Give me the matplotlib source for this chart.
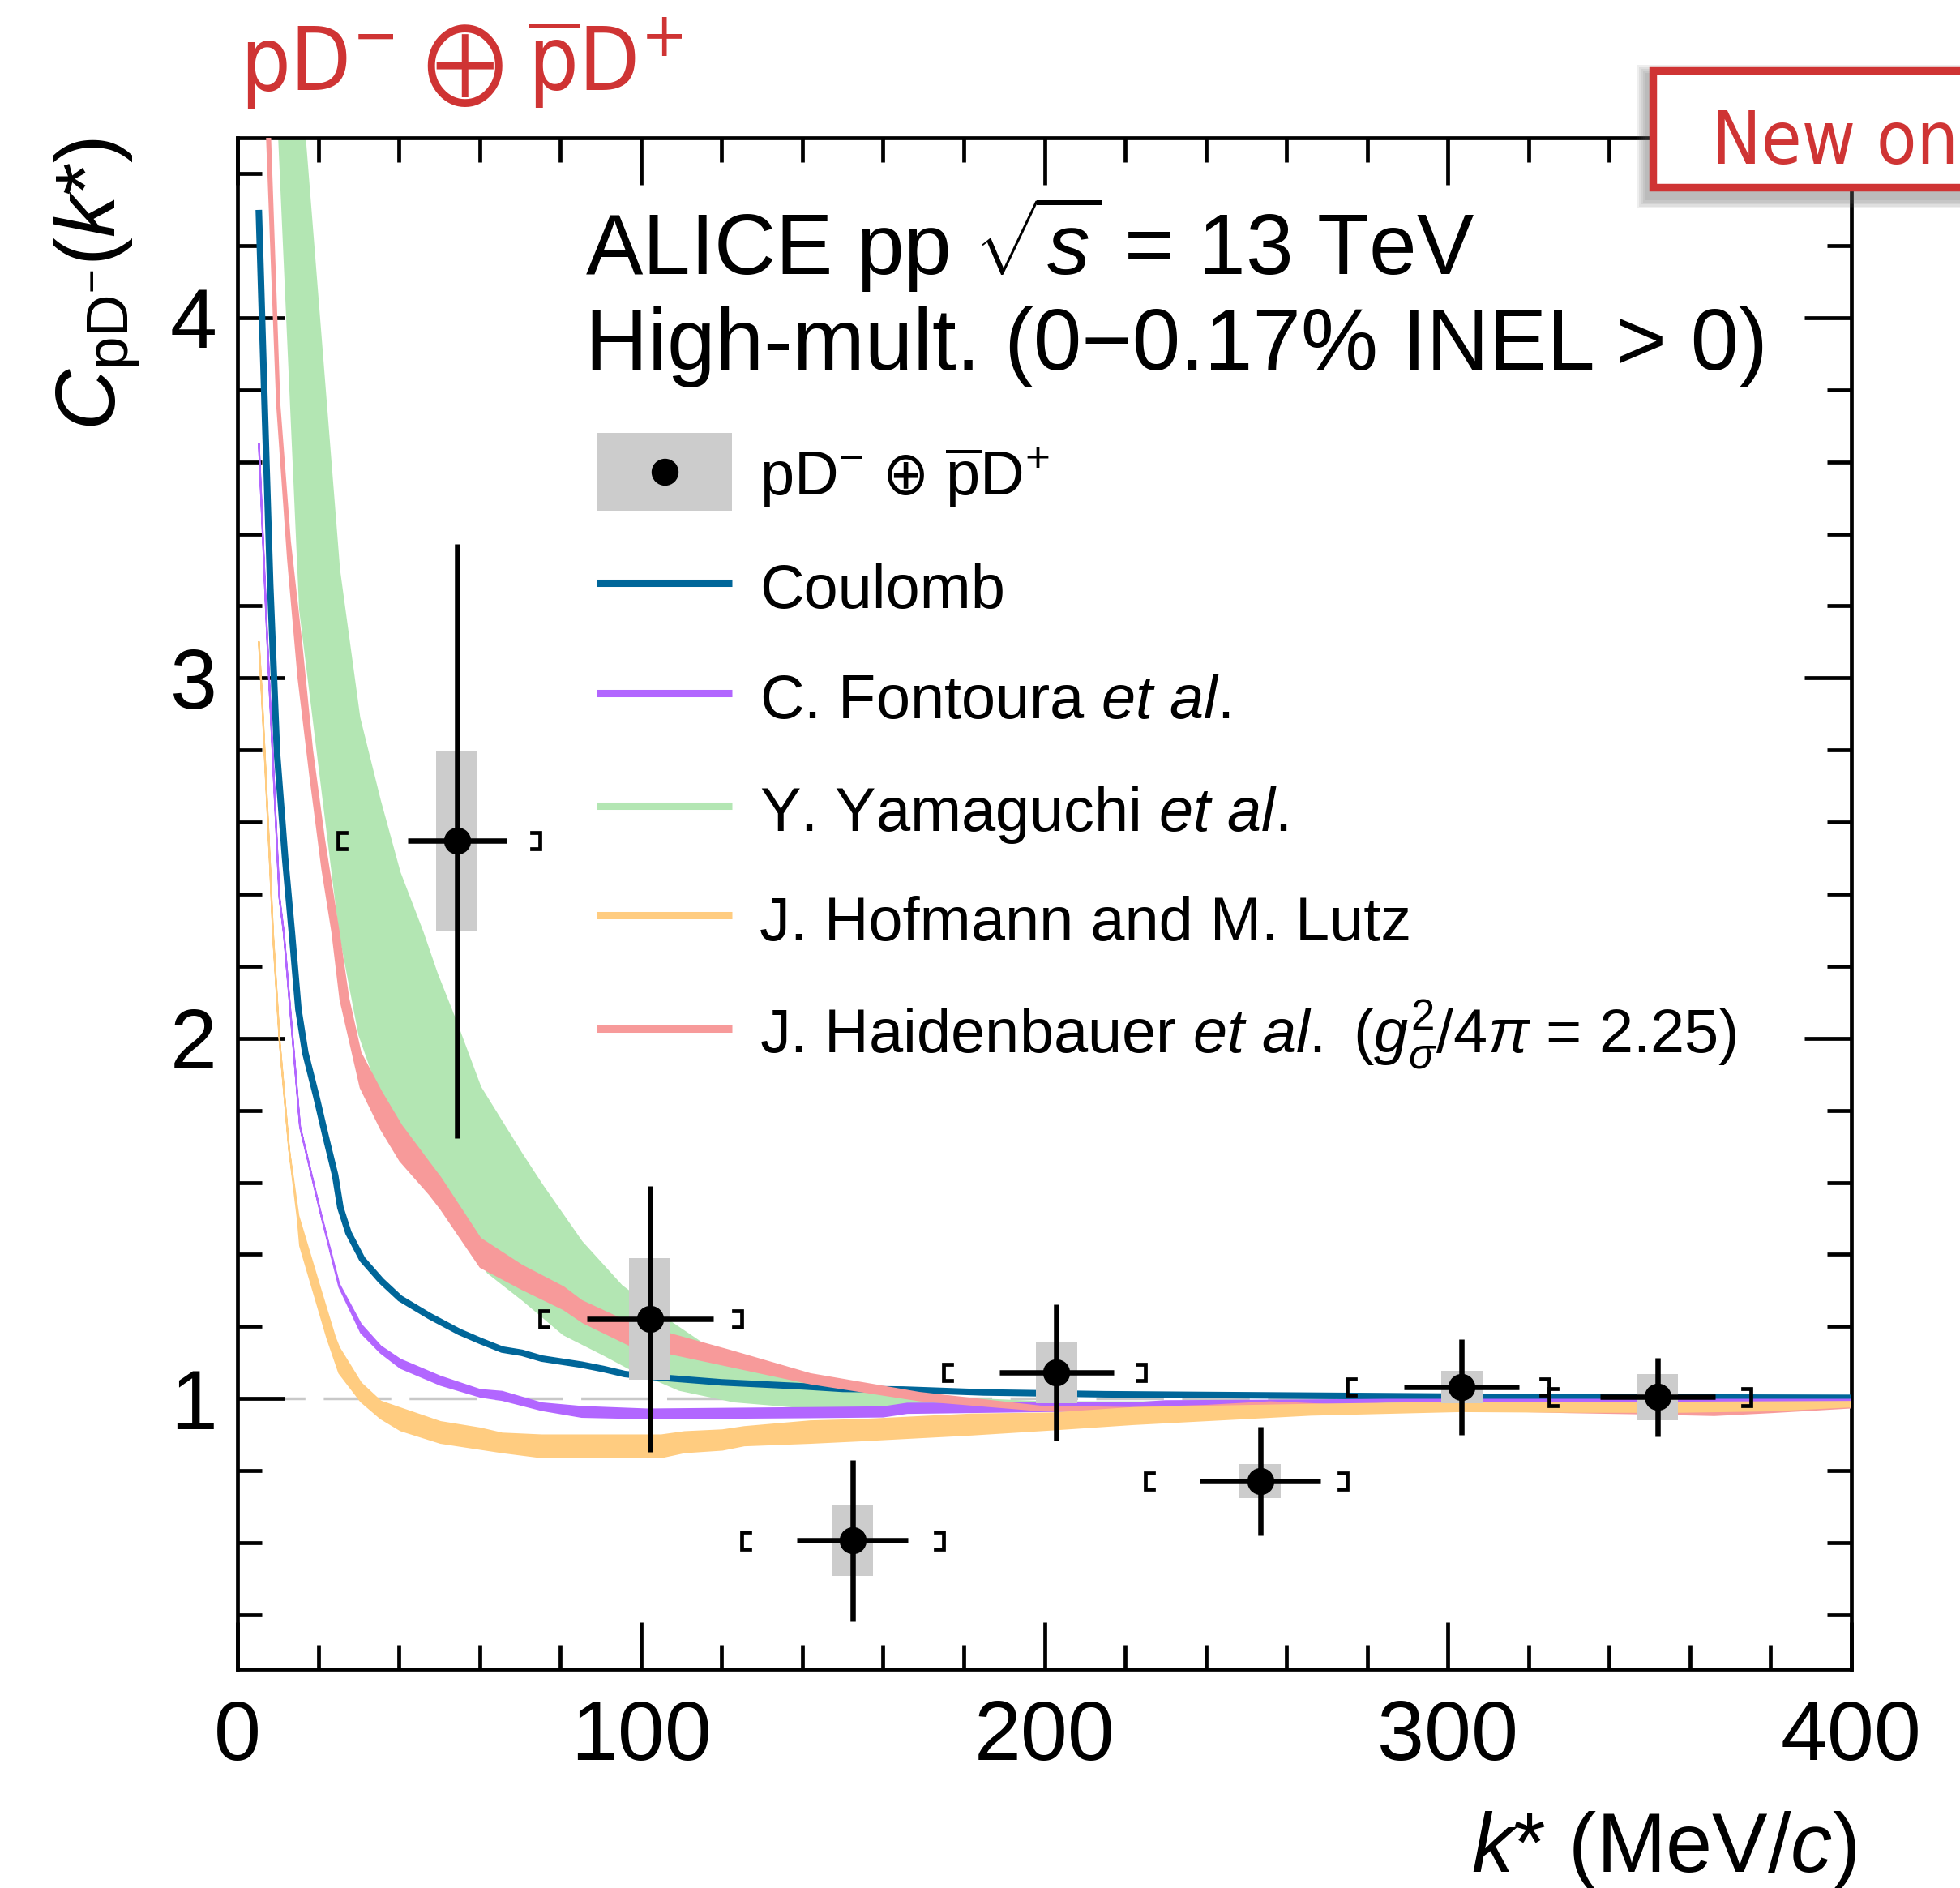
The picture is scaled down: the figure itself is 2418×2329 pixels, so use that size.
import numpy as np
import matplotlib
matplotlib.use('Agg')
import matplotlib.pyplot as plt
from matplotlib.patches import Rectangle
from matplotlib.lines import Line2D

plt.rcParams['font.family'] = ['Liberation Sans', 'DejaVu Sans']
plt.rcParams['mathtext.fontset'] = 'custom'
plt.rcParams['mathtext.rm'] = 'Liberation Sans'
plt.rcParams['mathtext.it'] = 'Liberation Sans:italic'
plt.rcParams['mathtext.bf'] = 'Liberation Sans:bold'
plt.rcParams['mathtext.sf'] = 'DejaVu Sans:stretch=condensed'

# measured data points, k* in MeV/c
k_pts = [54.4, 102.2, 152.4, 203.0, 253.5, 303.4, 352.0]
c_pts = [2.548, 1.221, 0.606, 1.072, 0.771, 1.032, 1.004]
k_err = [12.3, 15.7, 13.8, 14.1, 15.0, 14.2, 14.2]
stat_err = [0.825, 0.369, 0.224, 0.189, 0.150, 0.132, 0.109]
syst_err = [0.249, 0.168, 0.098, 0.084, 0.048, 0.046, 0.064]
bin_lo = [25, 75, 125, 175, 225, 275, 325]
bin_hi = [75, 125, 175, 225, 275, 325, 375]

# Coulomb only
k_coul = [5.3, 6.8, 8.1, 9.8, 11.8, 13.5, 15.1, 16.8, 19.5, 21.8, 24.2, 25.5, 27.5, 30.9, 35.6,
          40.3, 47.6, 55, 60.2, 65.6, 70.5, 75.4, 85.3, 90.7, 96, 102, 120, 140, 150, 165, 185,
          215, 240, 280, 320, 360, 400]
c_coul = [4.29, 3.73, 3.26, 2.79, 2.50, 2.29, 2.08, 1.96, 1.84, 1.73, 1.62, 1.53, 1.46, 1.387, 1.327,
          1.278, 1.229, 1.185, 1.16, 1.136, 1.127, 1.111, 1.094, 1.082, 1.068, 1.061, 1.045, 1.034, 1.027,
          1.025, 1.017, 1.012, 1.010, 1.007, 1.004, 1.003, 1.002]

# C. Fontoura et al. (band)
k_font = [5.3, 7.4, 10.4, 11.5, 15.5, 20.8, 25.2, 30.6, 35.5, 40.4, 50.3, 60.2, 65.6, 75.4, 85.3,
          101.6, 142, 160, 166, 200, 223, 230, 265, 285, 400]
font_hi = [3.65, 3.10, 2.39, 2.29, 1.755, 1.508, 1.318, 1.206, 1.145, 1.108, 1.061, 1.024, 1.019, 0.987,
           0.977, 0.970, 0.974, 0.976, 0.986, 0.987, 0.988, 0.993, 0.995, 0.997, 0.997]
font_lo = [3.65, 3.10, 2.39, 2.29, 1.753, 1.505, 1.310, 1.183, 1.127, 1.085, 1.038, 1.005, 0.996, 0.968,
           0.949, 0.945, 0.948, 0.950, 0.960, 0.965, 0.968, 0.978, 0.980, 0.991, 0.993]

# Y. Yamaguchi et al. (band)
k_yama_hi = [5.3, 16.7, 25.2, 30.2, 35.3, 40.2, 45.9, 49.4, 54.0, 60.2, 70.5, 75.4, 85.3, 95.2, 105,
             114.9, 127.4, 138, 150, 165, 180, 200, 250, 300, 400]
yama_hi = [6.5, 4.5, 3.30, 2.89, 2.66, 2.46, 2.294, 2.18, 2.05, 1.864, 1.678, 1.594, 1.435, 1.313, 1.23,
           1.155, 1.099, 1.061, 1.04, 1.015, 1.0, 0.99, 0.99, 0.992, 0.995]
k_yama_lo = [5.3, 10.3, 15.5, 25.4, 30.2, 34.9, 40.25, 47.6, 50.3, 56, 62, 71, 80.8, 90.7, 96.9,
             109.5, 123, 142, 160, 175, 200, 250, 300, 400]
yama_lo = [6.0, 4.5, 3.19, 2.29, 2.009, 1.859, 1.762, 1.657, 1.604, 1.47, 1.35, 1.271, 1.178, 1.122, 1.085,
           1.024, 0.992, 0.974, 0.978, 0.985, 0.988, 0.988, 0.99, 0.993]

# J. Hofmann and M. Lutz (band)
k_hofm_hi = [5.3, 6.1, 8.1, 8.8, 10.45, 12.8, 15.1, 20.1, 24.2, 25.2, 30.6, 35.5, 40.4, 50.3, 60.2,
             65.6, 75.4, 105, 110.8, 120.2, 125.6, 142, 155, 182, 202, 222, 266, 303, 333, 357, 380, 400]
hofm_hi = [3.10, 2.94, 2.47, 2.29, 1.99, 1.69, 1.507, 1.32, 1.169, 1.141, 1.043, 0.992, 0.973, 0.935, 0.917,
           0.903, 0.898, 0.898, 0.907, 0.912, 0.921, 0.937, 0.941, 0.956, 0.959, 0.974, 0.983, 0.989, 0.989,
           0.989, 0.99, 0.991]
k_hofm_lo = [5.3, 6.1, 8.1, 8.8, 10.45, 12.8, 14.9, 15.5, 22.2, 25.2, 30.6, 35.5, 40.4, 50.3, 65.6,
             75.4, 105, 110.8, 120.2, 125.6, 142, 155, 182, 202, 222, 266, 303, 333, 357, 380, 400]
hofm_lo = [3.10, 2.94, 2.47, 2.29, 1.99, 1.69, 1.50, 1.424, 1.169, 1.071, 0.992, 0.945, 0.912, 0.877, 0.851,
           0.837, 0.837, 0.851, 0.858, 0.870, 0.877, 0.884, 0.900, 0.914, 0.929, 0.955, 0.965, 0.963, 0.963,
           0.967, 0.978]

# J. Haidenbauer et al. (band)
k_haid_hi = [5.3, 8.1, 10.4, 13.0, 15.8, 18.5, 21.5, 25.1, 27.5, 30.5, 35.6, 40.6, 47.6, 50.3, 60.2,
             70.5, 80.8, 85.3, 96.9, 122, 142, 169, 199, 222, 240, 256, 270, 300, 330, 346, 366, 380, 400]
haid_hi = [5.3, 4.5, 3.76, 3.38, 3.10, 2.80, 2.55, 2.294, 2.11, 1.96, 1.852, 1.758, 1.653, 1.613, 1.444,
           1.369, 1.309, 1.271, 1.211, 1.133, 1.068, 1.016, 0.978, 0.974, 0.98, 0.99, 0.983, 0.982, 0.976,
           0.974, 0.970, 0.972, 0.985]
k_haid_lo = [5.3, 7.3, 9.8, 12.5, 15.1, 18.0, 21.0, 23.5, 25.5, 30.5, 35.6, 40.3, 47.6, 50.3, 60.2,
             70.5, 80.8, 85.7, 96.9, 122, 142, 169, 199, 222, 240, 256, 270, 300, 330, 346, 366, 380, 400]
haid_lo = [5.3, 4.5, 3.76, 3.33, 3.0, 2.73, 2.47, 2.294, 2.107, 1.863, 1.747, 1.66, 1.567, 1.528, 1.365,
           1.304, 1.248, 1.211, 1.15, 1.09, 1.042, 0.995, 0.967, 0.963, 0.966, 0.978, 0.970, 0.970, 0.962,
           0.959, 0.954, 0.962, 0.975]

legend_labels = [r'pD$^{-}$ $\mathsf{\oplus}$ $\overline{\mathrm{p}}$D$^{+}$',
                 'Coulomb',
                 r'C. Fontoura $et\ al.$',
                 r'Y. Yamaguchi $et\ al.$',
                 'J. Hofmann and M. Lutz',
                 r'J. Haidenbauer $et\ al.$ ($g^{2}_{\sigma}$/4$\pi$ = 2.25)']
header = [r'ALICE pp $\sqrt{s}$ = 13 TeV', 'High-mult. (0\u22120.17% INEL > 0)']
title = r'$\mathsf{pD^{-}\ \bigoplus\ \overline{p}D^{+}}$'

RED = '#cf3434'
c_coul_col = '#006699'
c_font_col = '#b266ff'
c_yama_col = '#b3e6b3'
c_hofm_col = '#ffcc80'
c_haid_col = '#f79a9a'

W, H, DPI = 2418, 2329, 100


def fx(px):
    return px / W


def fy(py):
    return 1 - py / H


fig = plt.figure(figsize=(W / DPI, H / DPI), dpi=DPI)
ax = fig.add_axes([fx(293), fy(2058.6), (2284 - 293) / W, (2058.6 - 169.6) / H])


def band(k_hi, v_hi, k_lo, v_lo, col, z):
    xs = np.concatenate([k_hi, np.array(k_lo)[::-1]])
    ys = np.concatenate([v_hi, np.array(v_lo)[::-1]])
    ax.fill(xs, ys, facecolor=col, edgecolor=col, lw=1.6, zorder=z, joinstyle='round')


ax.axhline(1.0, color='#c8c8c8', lw=2.5, ls=(0, (24, 6.5)), zorder=1)

band(k_yama_hi, yama_hi, k_yama_lo, yama_lo, c_yama_col, 2)
ax.plot(k_coul, c_coul, color=c_coul_col, lw=5.8, zorder=3, solid_joinstyle='round')
band(k_font, font_hi, k_font, font_lo, c_font_col, 4)
band(k_haid_hi, haid_hi, k_haid_lo, haid_lo, c_haid_col, 5)
band(k_hofm_hi, hofm_hi, k_hofm_lo, hofm_lo, c_hofm_col, 6)

# systematic boxes
for k, c, s in zip(k_pts, c_pts, syst_err):
    ax.add_patch(Rectangle((k - 5.1, c - s), 10.2, 2 * s, facecolor='#cccccc',
                           edgecolor='none', zorder=7))

# bin brackets
bw, bh = 2.0, 0.023
for lo, hi, c in zip(bin_lo, bin_hi, c_pts):
    ax.plot([lo + bw, lo, lo, lo + bw], [c + bh, c + bh, c - bh, c - bh],
            color='black', lw=3.4, solid_joinstyle='miter', zorder=8)
    ax.plot([hi - bw, hi, hi, hi - bw], [c + bh, c + bh, c - bh, c - bh],
            color='black', lw=3.4, solid_joinstyle='miter', zorder=8)

ax.errorbar(k_pts, c_pts, xerr=k_err, yerr=stat_err, fmt='o', color='black',
            ms=23, elinewidth=4.7, capsize=0, zorder=9)

ax.set_xlim(0, 400)
ax.set_ylim(0.25, 4.5)
ax.set_xticks([0, 100, 200, 300, 400])
ax.set_xticks(np.arange(0, 401, 20), minor=True)
ax.set_yticks([1, 2, 3, 4])
ax.set_yticks(np.arange(0.4, 4.45, 0.2), minor=True)
ax.tick_params(which='both', direction='in', top=True, right=True, width=3.4,
               labelsize=75, labeltop=False, labelright=False)
ax.tick_params(which='major', length=42)
ax.tick_params(which='minor', length=21.5)
ax.tick_params(axis='x', which='major', pad=27)
ax.tick_params(axis='y', which='major', pad=18)
for sp in ax.spines.values():
    sp.set_linewidth(3.4)

fig.text(fx(2290), fy(2309.3), r'$k$* (MeV/$c$)', ha='right', va='baseline', fontsize=74)
fig.text(fx(176), fy(170), r'$C_{\mathrm{pD}^{-}}$($k$*)', rotation=90, ha='right', va='top',
         fontsize=75)

# header
fig.text(fx(722), fy(339.3), header[0], fontsize=76, va='baseline')
fig.text(fx(722), fy(456), header[1], fontsize=77, va='baseline')

# legend drawn by hand
rows = [611, 750.4, 886, 1024.7, 1160, 1299.5]
cols = [None, c_coul_col, c_font_col, c_yama_col, c_hofm_col, c_haid_col]
fig.patches.append(Rectangle((fx(736), fy(630)), (903 - 736) / W, (630 - 534) / H,
                             transform=fig.transFigure, facecolor='#cccccc', edgecolor='none'))
fig.lines.append(Line2D([fx(819.6)], [fy(582)], marker='o', ms=23, color='black',
                        transform=fig.transFigure))
for b, col, lab in zip(rows, cols, legend_labels):
    if col is not None:
        fig.lines.append(Line2D([fx(736), fx(903)], [fy(b - 31), fy(b - 31)], color=col, lw=6.5,
                                solid_capstyle='butt', transform=fig.transFigure))
    fig.text(fx(937), fy(b), lab, fontsize=54.5, va='baseline')

# red title
fig.text(fx(296), fy(112), title, color=RED, fontsize=78, va='baseline')

# "New on" badge with soft shadow
for i in range(5):
    g = 2 + 2.5 * i
    sh = Rectangle((fx(2031 - g), fy(245 + g)), (3000 - 2031) / W, (245 - 92 + 2 * g) / H,
                   transform=fig.transFigure, facecolor='#606060', edgecolor='none',
                   alpha=0.10, zorder=9)
    fig.add_artist(sh)
badge = Rectangle((fx(2038.75), fy(231.25)), (3000 - 2038.75) / W, (231.25 - 86.75) / H,
                  transform=fig.transFigure, facecolor='white', edgecolor=RED, lw=6.8,
                  joinstyle='miter', zorder=10)
fig.add_artist(badge)
fig.text(fx(2112), fy(202), 'New on', color=RED, fontsize=65,
         family=['DejaVu Sans', 'Liberation Sans'], stretch='condensed', va='baseline', zorder=11)

fig.savefig('out.png', dpi=DPI)
